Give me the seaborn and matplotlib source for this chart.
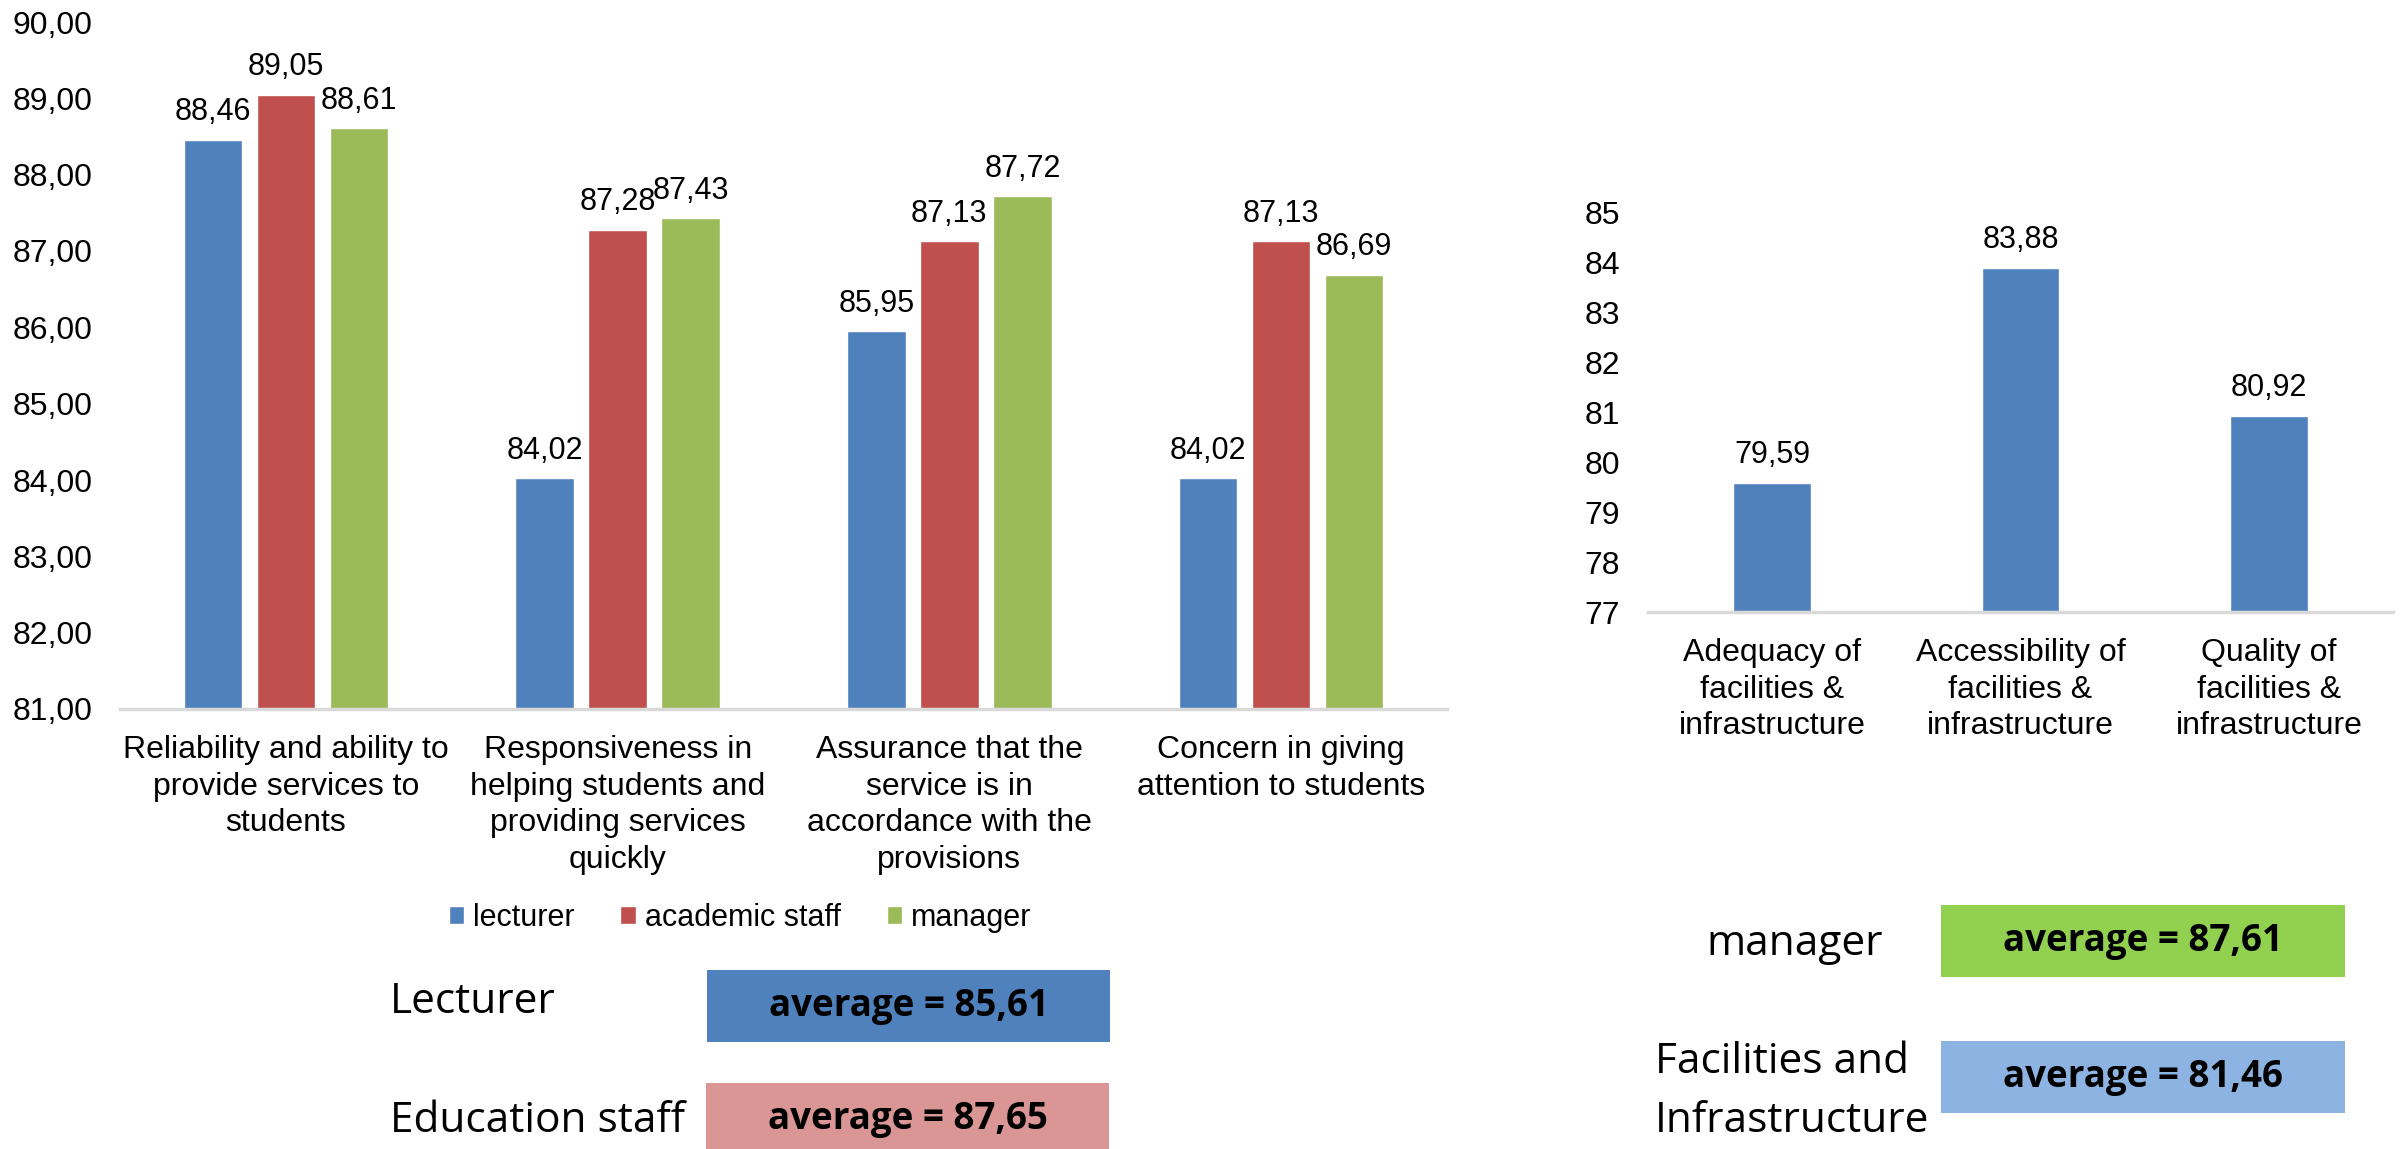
import matplotlib
matplotlib.use("Agg")
import matplotlib.pyplot as plt
import pandas as pd
import seaborn as sns
from matplotlib.patches import Rectangle

# ─── Data ─────────────────────────────────────────────────────────────────────
service_dimensions = [
    "Reliability and ability to\nprovide services to\nstudents",
    "Responsiveness in\nhelping students and\nproviding services\nquickly",
    "Assurance that the\nservice is in\naccordance with the\nprovisions",
    "Concern in giving\nattention to students",
]
groups = ["lecturer", "academic staff", "manager"]
lecturer_scores       = [88.46, 84.02, 85.95, 84.02]
academic_staff_scores = [89.05, 87.28, 87.13, 87.13]
manager_scores        = [88.61, 87.43, 87.72, 86.69]

facility_aspects = [
    "Adequacy of\nfacilities &\ninfrastructure",
    "Accessibility of\nfacilities &\ninfrastructure",
    "Quality of\nfacilities &\ninfrastructure",
]
facility_scores = [79.59, 83.88, 80.92]

summary_names    = ["Lecturer", "Education staff", "manager", "Facilities and\nInfrastructure"]
summary_averages = [85.61, 87.65, 87.61, 81.46]

# ─── Style / layout (pixels of the 2407x1149 canvas) ──────────────────────────
W, H = 2407, 1149
BLUE, RED, GREEN = "#4F81BD", "#C0504D", "#9BBB59"
BOX_COLORS = ["#4F81BD", "#D99694", "#92D050", "#8DB3E2"]
BOX_RECTS = [(707, 970, 1110, 1042), (706, 1083, 1109, 1155),
             (1941, 905, 2345, 977), (1941, 1041, 2345, 1113)]
NAME_POS = [(390, 1013, "left"), (390, 1132, "left"),
            (1795, 955, "center"), (1655, 1073, "left")]
NAME_LINE_STEP = 59
LABEL_FONT = "Open Sans"
TICK_SIZE = 23
VALUE_SIZE = 22


def comma(v, decimals=2):
    return f"{v:.{decimals}f}".replace(".", ",")


sns.set_theme(style="white", rc={"text.color": "black", "xtick.color": "black",
                                 "ytick.color": "black"})
plt.rcParams["font.family"] = ["Liberation Sans", "DejaVu Sans"]

fig = plt.figure(figsize=(W / 100, H / 100), dpi=100)


def axes_px(x0, y0, x1, y1):
    return fig.add_axes([x0 / W, 1 - y1 / H, (x1 - x0) / W, (y1 - y0) / H])


def fig_xy(x, y):
    return x / W, 1 - y / H


ax1 = axes_px(120, 22, 1447, 709)
ax2 = axes_px(1648, 212, 2393, 612)

# ─── Left chart: service quality by group ─────────────────────────────────────
df = pd.DataFrame({
    "dimension": service_dimensions * len(groups),
    "group": [g for g in groups for _ in service_dimensions],
    "score": lecturer_scores + academic_staff_scores + manager_scores,
})
sns.barplot(data=df, x="dimension", y="score", hue="group", hue_order=groups,
            palette=[BLUE, RED, GREEN], saturation=1, width=0.66, gap=0.2,
            errorbar=None, ax=ax1)
ax1.set_ylim(81, 90)
ax1.set_yticks(range(81, 91))
ax1.set_yticklabels([comma(t) for t in range(81, 91)])
for container, vals in zip(ax1.containers,
                           [lecturer_scores, academic_staff_scores, manager_scores]):
    ax1.bar_label(container, labels=[comma(v) for v in vals], padding=9,
                  fontsize=VALUE_SIZE)

handles, labels = ax1.get_legend_handles_labels()
ax1.get_legend().remove()
fig.legend(handles, labels, loc="center", bbox_to_anchor=fig_xy(740, 918), ncol=3,
           frameon=False, fontsize=22, handlelength=0.5, handleheight=0.5,
           handletextpad=0.3, columnspacing=1.5)

# ─── Right chart: facilities & infrastructure ────────────────────────────────
sns.barplot(x=facility_aspects, y=facility_scores, color=BLUE, saturation=1,
            width=0.314, errorbar=None, ax=ax2)
ax2.set_ylim(77, 85)
ax2.set_yticks(range(77, 86))
ax2.bar_label(ax2.containers[0], labels=[comma(v) for v in facility_scores],
              padding=9, fontsize=VALUE_SIZE)

for ax in (ax1, ax2):
    sns.despine(ax=ax, left=True)
    ax.spines["bottom"].set_color("#D9D9D9")
    ax.spines["bottom"].set_linewidth(2.5)
    ax.set_xlabel("")
    ax.set_ylabel("")
    ax.tick_params(axis="both", length=0, labelsize=TICK_SIZE)
    ax.tick_params(axis="x", pad=19)
    ax.tick_params(axis="y", pad=20)
    for t in ax.get_xticklabels():
        t.set_linespacing(1.28)

# ─── Summary boxes ────────────────────────────────────────────────────────────
for name, avg, color, (x0, y0, x1, y1), (nx, ny, ha) in zip(
        summary_names, summary_averages, BOX_COLORS, BOX_RECTS, NAME_POS):
    bx, by = fig_xy(x0, y1)
    fig.add_artist(Rectangle((bx, by), (x1 - x0) / W, (y1 - y0) / H,
                             transform=fig.transFigure, facecolor=color,
                             edgecolor="none"))
    cx, cy = fig_xy((x0 + x1) / 2, (y0 + y1) / 2)
    fig.text(cx, cy, f"average = {comma(avg)}", ha="center", va="center",
             fontsize=26.5, fontweight="bold", family=LABEL_FONT)
    for i, line in enumerate(name.split("\n")):
        tx, ty = fig_xy(nx, ny + i * NAME_LINE_STEP)
        fig.text(tx, ty, line, ha=ha, va="baseline", fontsize=30.5, family=LABEL_FONT)

fig.savefig("out.png", dpi=100)
